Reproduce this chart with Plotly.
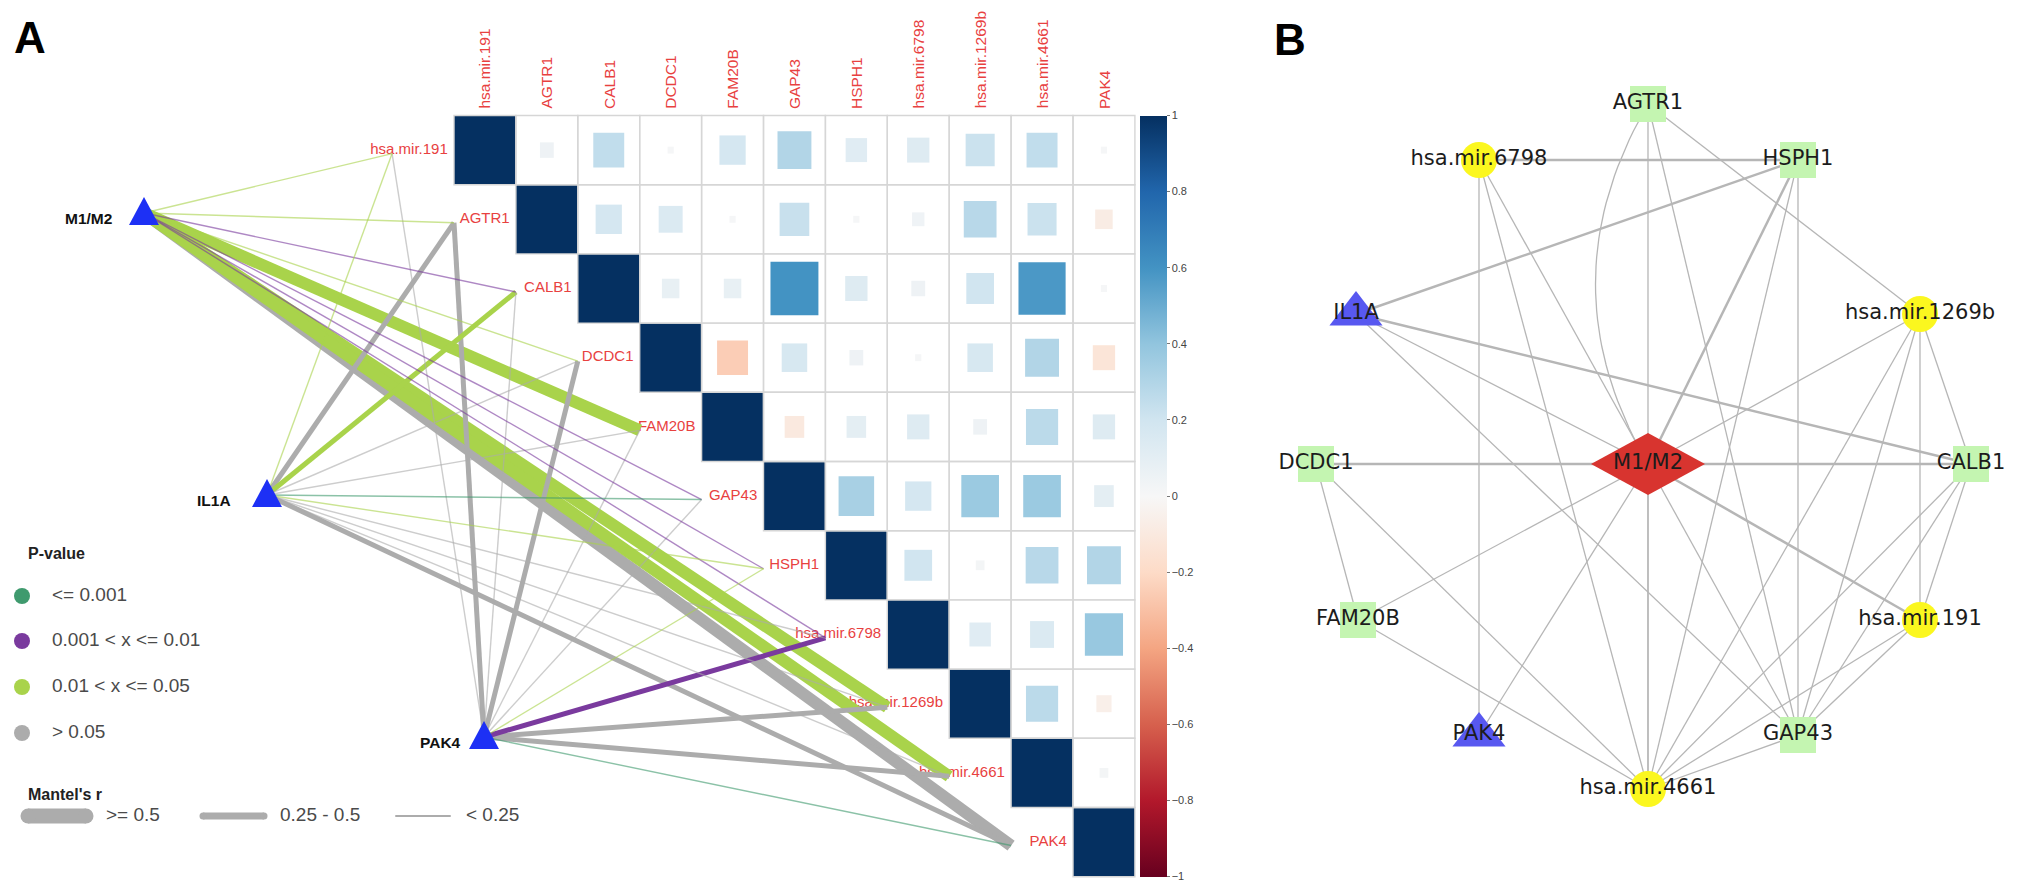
import plotly.graph_objects as go
from plotly.colors import make_colorscale, sample_colorscale
from plotly.express.colors import diverging

# ---------------- data ----------------
genes = ["hsa.mir.191", "AGTR1", "CALB1", "DCDC1", "FAM20B", "GAP43", "HSPH1",
         "hsa.mir.6798", "hsa.mir.1269b", "hsa.mir.4661", "PAK4"]

# upper triangle of the correlation matrix, row by row (diagonal first)
corr_upper = [
    [1, 0.05, 0.25, 0.01, 0.18, 0.30, 0.12, 0.13, 0.22, 0.25, 0.01],
    [1, 0.18, 0.15, 0.01, 0.23, 0.01, 0.04, 0.28, 0.22, -0.08],
    [1, 0.08, 0.08, 0.60, 0.13, 0.05, 0.20, 0.58, 0.01],
    [1, -0.25, 0.17, 0.05, 0.01, 0.17, 0.30, -0.13],
    [1, -0.10, 0.10, 0.13, 0.05, 0.27, 0.13],
    [1, 0.33, 0.18, 0.37, 0.37, 0.10],
    [1, 0.20, 0.02, 0.28, 0.30],
    [1, 0.12, 0.15, 0.38],
    [1, 0.27, -0.06],
    [1, 0.02],
    [1],
]

mantel_sources = ["M1/M2", "IL1A", "PAK4"]
mantel_r_m1m2 = [0.12, 0.10, 0.15, 0.10, 0.62, 0.18, 0.20, 0.14, 0.60, 0.61, 0.56]
mantel_p_m1m2 = [0.03, 0.04, 0.006, 0.045, 0.02, 0.007, 0.005, 0.008, 0.02, 0.02, 0.35]
mantel_r_il1a = [0.10, 0.30, 0.33, 0.12, 0.10, 0.20, 0.15, 0.08, 0.10, 0.12, 0.30]
mantel_p_il1a = [0.04, 0.20, 0.03, 0.30, 0.40, 0.0008, 0.04, 0.50, 0.45, 0.35, 0.15]
mantel_r_pak4 = [0.10, 0.32, 0.12, 0.30, 0.10, 0.08, 0.12, 0.35, 0.30, 0.33, 0.20]
mantel_p_pak4 = [0.25, 0.15, 0.40, 0.20, 0.50, 0.60, 0.04, 0.005, 0.12, 0.10, 0.0009]

p_legend_labels = ["<= 0.001", "0.001 < x <= 0.01", "0.01 < x <= 0.05", "> 0.05"]
r_legend_labels = [">= 0.5", "0.25 - 0.5", "< 0.25"]
colorbar_ticks = [1, 0.8, 0.6, 0.4, 0.2, 0, -0.2, -0.4, -0.6, -0.8, -1]

net_nodes = ["AGTR1", "hsa.mir.6798", "HSPH1", "IL1A", "hsa.mir.1269b", "DCDC1", "M1/M2",
             "CALB1", "FAM20B", "hsa.mir.191", "PAK4", "GAP43", "hsa.mir.4661"]
net_types = ["gene", "mirna", "gene", "driver", "mirna", "gene", "hub",
             "gene", "gene", "mirna", "driver", "gene", "mirna"]
net_edges = [
    ("hsa.mir.6798", "HSPH1", 2), ("hsa.mir.6798", "PAK4", 1), ("hsa.mir.6798", "M1/M2", 1),
    ("hsa.mir.6798", "hsa.mir.4661", 1),
    ("AGTR1", "M1/M2", 1), ("AGTR1", "hsa.mir.4661", 1), ("AGTR1", "GAP43", 1),
    ("AGTR1", "hsa.mir.1269b", 1),
    ("HSPH1", "IL1A", 2), ("HSPH1", "M1/M2", 2), ("HSPH1", "GAP43", 1), ("HSPH1", "hsa.mir.4661", 1),
    ("IL1A", "M1/M2", 1), ("IL1A", "CALB1", 2), ("IL1A", "GAP43", 1),
    ("hsa.mir.1269b", "M1/M2", 1), ("hsa.mir.1269b", "CALB1", 1), ("hsa.mir.1269b", "hsa.mir.191", 1),
    ("hsa.mir.1269b", "GAP43", 1), ("hsa.mir.1269b", "hsa.mir.4661", 1),
    ("DCDC1", "M1/M2", 2), ("DCDC1", "FAM20B", 1), ("DCDC1", "hsa.mir.4661", 1),
    ("M1/M2", "CALB1", 2), ("M1/M2", "FAM20B", 1), ("M1/M2", "PAK4", 1),
    ("M1/M2", "hsa.mir.4661", 1), ("M1/M2", "GAP43", 1), ("M1/M2", "hsa.mir.191", 2),
    ("FAM20B", "hsa.mir.4661", 1), ("CALB1", "GAP43", 1), ("CALB1", "hsa.mir.4661", 1),
    ("CALB1", "hsa.mir.191", 1), ("hsa.mir.191", "GAP43", 1), ("hsa.mir.191", "hsa.mir.4661", 1),
    ("GAP43", "hsa.mir.4661", 1),
]
curved_edges = [("AGTR1", "M1/M2")]

# ---------------- layout / style ----------------
W, H = 2031, 896
FONT = "Liberation Sans, Arial, sans-serif"
NET_FONT = "DejaVu Sans, sans-serif"
RED_TXT = "#e8413f"
P_COLORS = ["#3f9a6e", "#7a3a9e", "#a9d34b", "#acacac"]
R_WIDTHS = [12, 5, 1.4]
LEG_WIDTHS = [15, 7, 2]
CELL_W, CELL_H = 61.9, 69.2
MAT_LEFT, MAT_TOP = 446.0, 107.5

# Mantel source nodes (pixels)
src_px = {"M1/M2": (136, 205), "IL1A": (259, 487), "PAK4": (476, 729)}
src_label_right = {"M1/M2": 106, "IL1A": 225, "PAK4": 455}
# network layout (pixels)
net_pos = {
    "AGTR1": (1640, 96), "hsa.mir.6798": (1471, 152), "HSPH1": (1790, 152),
    "IL1A": (1348, 306), "hsa.mir.1269b": (1912, 306), "DCDC1": (1308, 456),
    "M1/M2": (1640, 456), "CALB1": (1963, 456), "FAM20B": (1350, 612),
    "hsa.mir.191": (1912, 612), "PAK4": (1471, 727), "GAP43": (1790, 727),
    "hsa.mir.4661": (1640, 781),
}

xr = [-0.5 - MAT_LEFT / CELL_W, -0.5 + (W - MAT_LEFT) / CELL_W]
yr = [-0.5 + (H - MAT_TOP) / CELL_H, -0.5 - MAT_TOP / CELL_H]
cs = make_colorscale(list(diverging.RdBu))


def to_mx(px):
    return (px - MAT_LEFT) / CELL_W - 0.5


def to_my(py):
    return (py - MAT_TOP) / CELL_H - 0.5


def p_class(p):
    if p <= 0.001:
        return 0
    if p <= 0.01:
        return 1
    if p <= 0.05:
        return 2
    return 3


def r_class(r):
    if r >= 0.5:
        return 0
    if r >= 0.25:
        return 1
    return 2


fig = go.Figure()
shapes = []
annotations = []
n = len(genes)

# ---- correlation squares + grid ----
cx, cy, cv = [], [], []
for i in range(n):
    for k, r in enumerate(corr_upper[i]):
        j = i + k
        s = min(abs(r), 1) ** 0.5
        col = sample_colorscale(cs, [(r + 1) / 2])[0]
        shapes.append(dict(type="rect", xref="x", yref="y", x0=j - s / 2, x1=j + s / 2,
                           y0=i - s / 2, y1=i + s / 2, line=dict(width=0),
                           fillcolor=col, layer="below"))
        cx.append(j); cy.append(i); cv.append(r)
for i in range(n):
    for k in range(len(corr_upper[i])):
        j = i + k
        shapes.append(dict(type="rect", xref="x", yref="y", x0=j - 0.5, x1=j + 0.5,
                           y0=i - 0.5, y1=i + 0.5, line=dict(color="#d6d6d6", width=1.4),
                           fillcolor="rgba(0,0,0,0)", layer="below"))

fig.add_trace(go.Scatter(
    x=cx, y=cy, mode="markers", hoverinfo="skip", showlegend=False,
    marker=dict(size=1, opacity=0, color=cv, colorscale=cs, cmin=-1, cmax=1, showscale=True,
                colorbar=dict(x=(MAT_LEFT + n * CELL_W + 5) / W, xanchor="left", xpad=0,
                              y=1 - MAT_TOP / H, yanchor="top", ypad=0,
                              len=(n * CELL_H) / H, lenmode="fraction",
                              thickness=27, outlinewidth=0, tickvals=colorbar_ticks,
                              ticks="outside", ticklen=3, tickcolor="#777",
                              tickprefix="\u00a0\u00a0\u00a0",
                              tickfont=dict(family=FONT, size=11, color="#444"))),
))

# ---- row labels (under the Mantel links) ----
fig.add_trace(go.Scatter(
    x=[i - 0.6 for i in range(n)], y=list(range(n)), text=genes, mode="text",
    textposition="middle left", hoverinfo="skip", showlegend=False,
    textfont=dict(family=FONT, size=15, color=RED_TXT)))

# ---- Mantel links ----
mantel_r = [mantel_r_m1m2, mantel_r_il1a, mantel_r_pak4]
mantel_p = [mantel_p_m1m2, mantel_p_il1a, mantel_p_pak4]
links = []
for si, src in enumerate(mantel_sources):
    for gi in range(n):
        rc = r_class(mantel_r[si][gi])
        pc = p_class(mantel_p[si][gi])
        links.append((rc, 0 if pc == 3 else 1, src, gi, pc))
links.sort(key=lambda t: (t[0], t[1]))
for rc, _, src, gi, pc in links:
    x0, y0 = to_mx(src_px[src][0]), to_my(src_px[src][1])
    fig.add_trace(go.Scatter(
        x=[x0, gi - 1.5], y=[y0, gi + 0.05], mode="lines", hoverinfo="skip", showlegend=False,
        opacity=0.6 if rc == 2 else 1.0,
        line=dict(color=P_COLORS[pc], width=R_WIDTHS[rc])))

# ---- Mantel source nodes (pixel axes, drawn on top) ----
for s in mantel_sources:
    px, py = src_px[s]
    fig.add_trace(go.Scatter(x=[px - 15, px + 15, px, px - 15], y=[py + 12, py + 12, py - 16, py + 12],
                             mode="lines", fill="toself", fillcolor="#1d30f5",
                             line=dict(width=0, color="#1d30f5"), hoverinfo="skip",
                             showlegend=False, xaxis="x2", yaxis="y2"))
    annotations.append(dict(x=src_label_right[s], y=py + 5, xref="x2", yref="y2",
                            text="<b>%s</b>" % s, showarrow=False, xanchor="right",
                            font=dict(family=FONT, size=15.5, color="#111")))

# ---- column headers ----
for j, g in enumerate(genes):
    annotations.append(dict(x=j, y=-0.57, xref="x", yref="y", text=g, textangle=-90,
                            showarrow=False, xanchor="center", yanchor="bottom",
                            font=dict(family=FONT, size=15.5, color=RED_TXT)))

# ---- legend for panel A (pixel axes) ----
leg_y = [588, 633, 679, 725]
fig.add_trace(go.Scatter(x=[14] * 4, y=leg_y, mode="markers", hoverinfo="skip", showlegend=False,
                         xaxis="x2", yaxis="y2",
                         marker=dict(size=16, color=P_COLORS, line=dict(width=0))))
fig.add_trace(go.Scatter(x=[44] * 4, y=leg_y, mode="text", text=p_legend_labels,
                         textposition="middle right", hoverinfo="skip", showlegend=False,
                         xaxis="x2", yaxis="y2", textfont=dict(family=FONT, size=19, color="#4a4a4a")))
annotations.append(dict(x=18, y=545, xref="x2", yref="y2", text="<b>P-value</b>", showarrow=False,
                        xanchor="left", font=dict(family=FONT, size=16, color="#222")))
annotations.append(dict(x=18, y=786, xref="x2", yref="y2", text="<b>Mantel's r</b>", showarrow=False,
                        xanchor="left", font=dict(family=FONT, size=16, color="#222")))
seg_x = [(20, 78), (195, 256), (388, 442)]
txt_x = [98, 272, 458]
for k, lab in enumerate(r_legend_labels):
    fig.add_trace(go.Scatter(x=list(seg_x[k]), y=[808, 808], mode="lines+markers", hoverinfo="skip",
                             showlegend=False, xaxis="x2", yaxis="y2",
                             marker=dict(size=LEG_WIDTHS[k], color=P_COLORS[3], line=dict(width=0)),
                             line=dict(color=P_COLORS[3], width=LEG_WIDTHS[k])))
    fig.add_trace(go.Scatter(x=[txt_x[k]], y=[808], mode="text", text=[lab],
                             textposition="middle right", hoverinfo="skip", showlegend=False,
                             xaxis="x2", yaxis="y2",
                             textfont=dict(family=FONT, size=19, color="#4a4a4a")))

# ---- panel B network ----
for a, b, w in net_edges:
    (xa, ya), (xb, yb) = net_pos[a], net_pos[b]
    xs, ys = [xa, xb], [ya, yb]
    if (a, b) in curved_edges:
        mx, my = (xa + xb) / 2 - 105, (ya + yb) / 2
        ts = [t / 40 for t in range(41)]
        xs = [(1 - t) ** 2 * xa + 2 * (1 - t) * t * mx + t ** 2 * xb for t in ts]
        ys = [(1 - t) ** 2 * ya + 2 * (1 - t) * t * my + t ** 2 * yb for t in ts]
    fig.add_trace(go.Scatter(x=xs, y=ys, mode="lines", hoverinfo="skip", showlegend=False,
                             xaxis="x2", yaxis="y2",
                             line=dict(color="#b6b6b6", width=1.3 if w == 1 else 2.5)))

type_style = {
    "gene": dict(symbol="square", size=36, color="#c4f5b1"),
    "mirna": dict(symbol="circle", size=36, color="#fbf71f"),
    "driver": dict(symbol="triangle-up", size=46, color="#5858f0"),
}
for t, st in type_style.items():
    names = [nm for nm, tp in zip(net_nodes, net_types) if tp == t]
    fig.add_trace(go.Scatter(x=[net_pos[nm][0] for nm in names], y=[net_pos[nm][1] for nm in names],
                             mode="markers", hoverinfo="skip", showlegend=False,
                             xaxis="x2", yaxis="y2",
                             marker=dict(symbol=st["symbol"], size=st["size"], color=st["color"],
                                         line=dict(width=0))))
for nm, tp in zip(net_nodes, net_types):
    if tp == "hub":
        hx, hy = net_pos[nm]
        fig.add_trace(go.Scatter(x=[hx - 57, hx, hx + 57, hx, hx - 57],
                                 y=[hy, hy - 31, hy, hy + 31, hy], mode="lines", fill="toself",
                                 fillcolor="#d8342f", line=dict(width=0, color="#d8342f"),
                                 hoverinfo="skip", showlegend=False, xaxis="x2", yaxis="y2"))
fig.add_trace(go.Scatter(x=[net_pos[nm][0] for nm in net_nodes], y=[net_pos[nm][1] for nm in net_nodes],
                         text=net_nodes, mode="text", textposition="middle center",
                         hoverinfo="skip", showlegend=False, xaxis="x2", yaxis="y2",
                         textfont=dict(family=NET_FONT, size=21, color="#1c1c1c")))

# ---- panel letters ----
annotations.append(dict(x=4 / W, y=1 - 3 / H, xref="paper", yref="paper", text="<b>A</b>",
                        showarrow=False, xanchor="left", yanchor="top",
                        font=dict(family=FONT, size=44, color="#000")))
annotations.append(dict(x=1264 / W, y=1 - 5 / H, xref="paper", yref="paper", text="<b>B</b>",
                        showarrow=False, xanchor="left", yanchor="top",
                        font=dict(family=FONT, size=44, color="#000")))

fig.update_layout(
    width=W, height=H, autosize=False, margin=dict(l=0, r=0, t=0, b=0),
    paper_bgcolor="white", plot_bgcolor="rgba(0,0,0,0)",
    xaxis=dict(domain=[0, 1], range=xr, visible=False, fixedrange=True),
    yaxis=dict(domain=[0, 1], range=yr, visible=False, fixedrange=True),
    xaxis2=dict(overlaying="x", range=[0, W], visible=False, fixedrange=True),
    yaxis2=dict(overlaying="y", range=[H, 0], visible=False, fixedrange=True),
    shapes=shapes, annotations=annotations, showlegend=False,
)

fig.write_html("out.html")
